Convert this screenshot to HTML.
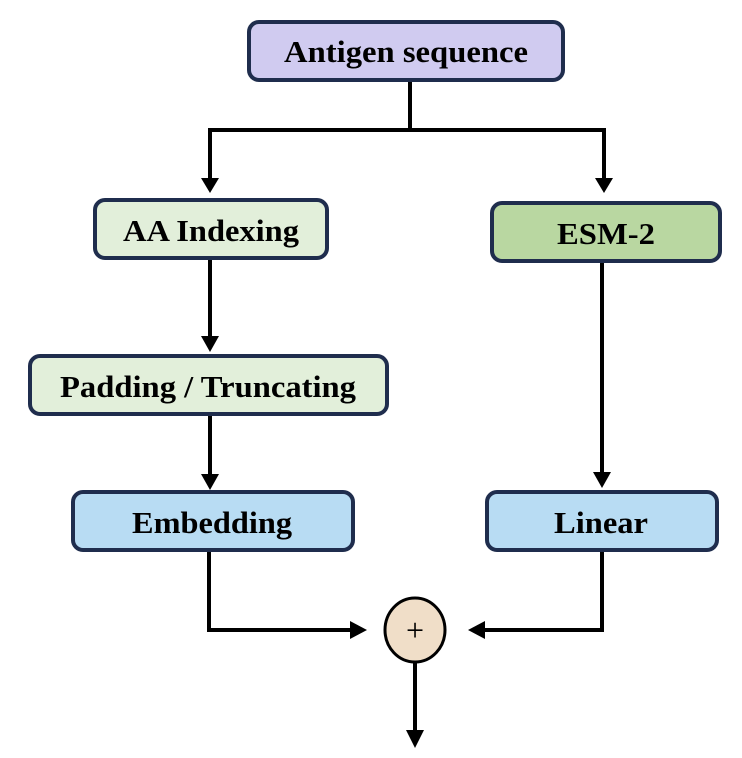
<!DOCTYPE html>
<html><head><meta charset="utf-8"><style>
html,body{margin:0;padding:0;background:#fff;}
svg{display:block;}
text{font-family:"Liberation Serif",serif;font-weight:bold;fill:#000;}
</style></head><body>
<svg width="742" height="758" viewBox="0 0 742 758" xmlns="http://www.w3.org/2000/svg">
<g stroke="#000" stroke-width="4" fill="none">
<polyline points="410,80 410,130"/>
<polyline points="210,180 210,130 604,130 604,180"/>
<line x1="210" y1="258" x2="210" y2="338"/>
<line x1="210" y1="414" x2="210" y2="476"/>
<line x1="602" y1="261" x2="602" y2="474"/>
<polyline points="209,550 209,630 350,630"/>
<polyline points="602,550 602,630 484,630"/>
<line x1="415" y1="663" x2="415" y2="732"/>
</g>
<g fill="#000">
<polygon points="201,178 219,178 210,193"/>
<polygon points="595,178 613,178 604,193"/>
<polygon points="201,336 219,336 210,352"/>
<polygon points="201,474 219,474 210,490"/>
<polygon points="593,472 611,472 602,488"/>
<polygon points="350,621 350,639 367,630"/>
<polygon points="485,621 485,639 468,630"/>
<polygon points="406,730 424,730 415,748"/>
</g>
<g stroke="#1f2d4d" stroke-width="4">
<rect x="249" y="22" width="314" height="58" rx="10" fill="#d0cbf0"/>
<rect x="95" y="200" width="232" height="58" rx="10" fill="#e2efda"/>
<rect x="492" y="203" width="228" height="58" rx="10" fill="#b9d7a1"/>
<rect x="30" y="356" width="357" height="58" rx="10" fill="#e2efda"/>
<rect x="73" y="492" width="280" height="58" rx="10" fill="#b8dcf3"/>
<rect x="487" y="492" width="230" height="58" rx="10" fill="#b8dcf3"/>
<ellipse cx="415" cy="630" rx="30" ry="32" fill="#f0dec8" stroke="#000" stroke-width="3"/>
</g>
<text x="406" y="62" font-size="31" text-anchor="middle" textLength="244" lengthAdjust="spacingAndGlyphs">Antigen sequence</text>
<text x="211" y="241" font-size="31" text-anchor="middle" textLength="176" lengthAdjust="spacingAndGlyphs">AA Indexing</text>
<text x="606" y="244" font-size="31" text-anchor="middle" textLength="98" lengthAdjust="spacingAndGlyphs">ESM-2</text>
<text x="208" y="397" font-size="31" text-anchor="middle" textLength="296" lengthAdjust="spacingAndGlyphs">Padding / Truncating</text>
<text x="212" y="533" font-size="31" text-anchor="middle" textLength="160" lengthAdjust="spacingAndGlyphs">Embedding</text>
<text x="601" y="533" font-size="31" text-anchor="middle" textLength="94" lengthAdjust="spacingAndGlyphs">Linear</text>
<text x="415" y="641" font-size="32" text-anchor="middle" style="font-weight:normal">+</text>
</svg>
</body></html>
